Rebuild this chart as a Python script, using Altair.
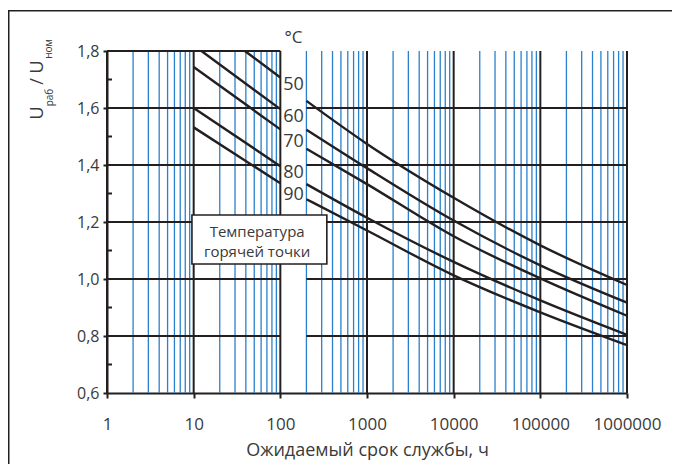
import altair as alt
import pandas as pd

# ---------------- data ----------------
temps = ["50", "60", "70", "80", "90"]

# left segments (10 ... 100 h)
left_x_50 = [39, 100]
left_y_50 = [1.800, 1.707]
left_x_60 = [12.3, 100]
left_y_60 = [1.800, 1.596]
left_x_70 = [10, 100]
left_y_70 = [1.744, 1.525]
left_x_80 = [10, 100]
left_y_80 = [1.600, 1.396]
left_x_90 = [10, 100]
left_y_90 = [1.532, 1.336]

# right segments (200 ... 1000000 h)
right_x = [200, 1000, 10000, 100000, 1000000]
right_y_50 = [1.625, 1.474, 1.285, 1.118, 0.979]
right_y_60 = [1.524, 1.389, 1.205, 1.048, 0.917]
right_y_70 = [1.457, 1.333, 1.150, 1.002, 0.871]
right_y_80 = [1.333, 1.215, 1.060, 0.925, 0.804]
right_y_90 = [1.280, 1.170, 1.013, 0.883, 0.768]

x_ticks = [1, 10, 100, 1000, 10000, 100000, 1000000]
x_minor = [2, 3, 4, 5, 6, 7, 8, 9,
           20, 30, 40, 50, 60, 70, 80, 90,
           200, 300, 400, 500, 600, 700, 800, 900,
           2000, 3000, 4000, 5000, 6000, 7000, 8000, 9000,
           20000, 30000, 40000, 50000, 60000, 70000, 80000, 90000,
           200000, 300000, 400000, 500000, 600000, 700000, 800000, 900000]
y_ticks = [0.6, 0.8, 1.0, 1.2, 1.4, 1.6, 1.8]
y_minor = [0.7, 0.9, 1.1, 1.3, 1.5, 1.7]

# horizontal grid segments (gap between 100 and 200 for the labels)
hgrid_y = [0.8, 0.8, 1.0, 1.0, 1.2, 1.2, 1.4, 1.4, 1.6, 1.6, 1.8]
hgrid_x1 = [1, 200, 1, 200, 1, 200, 1, 200, 1, 200, 1]
hgrid_x2 = [100, 1000000, 100, 1000000, 100, 1000000, 100, 1000000, 100, 1000000, 100]

# curve labels
label_x = [141.6] * 5
label_y = [1.681, 1.567, 1.482, 1.373, 1.295]
unit_label = "°C"
unit_x = [141.6]

# annotation box
box_x = [9.55]
box_x2 = [344]
box_y = [1.0526]
box_y2 = [1.2246]
box_text = ["Температура", "горячей точки"]
box_text_x = [54, 54]
box_text_y = [1.166, 1.094]

x_title = "Ожидаемый срок службы, ч"

# ---------------- styles ----------------
DARK = "#231f20"
BLUE = "#2a80cc"
TXT = "#3a3a3a"
FONT = "Open Sans"
W, H = 520, 342

xs = alt.Scale(type="log", domain=[1, 1000000], nice=False)
ys = alt.Scale(domain=[0.6, 1.8], nice=False, zero=False)

rows = []
lefts = [(left_x_50, left_y_50), (left_x_60, left_y_60), (left_x_70, left_y_70),
         (left_x_80, left_y_80), (left_x_90, left_y_90)]
rights = [right_y_50, right_y_60, right_y_70, right_y_80, right_y_90]
for t, (lx, ly), ry in zip(temps, lefts, rights):
    for a, b in zip(lx, ly):
        rows.append({"key": t + "L", "x": a, "y": b})
    for a, b in zip(right_x, ry):
        rows.append({"key": t + "R", "x": a, "y": b})
curves_df = pd.DataFrame(rows)

x_axis = alt.Axis(
    values=x_ticks, format="d", grid=False, title=x_title,
    labelFont=FONT, labelFontSize=17, labelColor=TXT, labelPadding=18, labelFlush=False,
    tickColor=DARK, tickSize=5, tickWidth=2, domainColor=DARK, domainWidth=2,
    titleFont=FONT, titleFontSize=18, titleFontWeight="normal", titleColor=TXT, titlePadding=9)
y_axis = alt.Axis(
    values=y_ticks, labelExpr="replace(format(datum.value, '.1f'), '.', ',')", grid=False, title=None,
    labelFont=FONT, labelFontSize=16, labelColor=TXT, labelPadding=4,
    tickColor=DARK, tickSize=4, tickWidth=2, domainColor=DARK, domainWidth=2)


def X(f):
    return alt.X(f, scale=xs, axis=x_axis)


def Y(f):
    return alt.Y(f, scale=ys, axis=y_axis)


blue = alt.Chart(pd.DataFrame({"x": x_minor})).mark_rule(color=BLUE, strokeWidth=1.3).encode(
    x=X("x:Q"), y=alt.value(0), y2=alt.value(H))

dark_v = alt.Chart(pd.DataFrame({"x": x_ticks})).mark_rule(color=DARK, strokeWidth=2).encode(
    x=X("x:Q"), y=alt.value(0), y2=alt.value(H))

hgrid = alt.Chart(pd.DataFrame({"y": hgrid_y, "x1": hgrid_x1, "x2": hgrid_x2})).mark_rule(
    color=DARK, strokeWidth=2).encode(
    x=X("x1:Q"), x2="x2:Q", y=Y("y:Q"))

curves = alt.Chart(curves_df).mark_line(color=DARK, strokeWidth=2.4, interpolate="monotone").encode(
    x=X("x:Q"), y=Y("y:Q"), detail="key:N")

minor_y = alt.Chart(pd.DataFrame({"y": y_minor})).mark_rule(color=DARK, strokeWidth=2).encode(
    x=alt.value(0), x2=alt.value(5), y=Y("y:Q"))

box = alt.Chart(pd.DataFrame({"x": box_x, "x2": box_x2, "y": box_y, "y2": box_y2})).mark_rect(
    fill="white", stroke=DARK, strokeWidth=1.6).encode(
    x=X("x:Q"), x2="x2:Q", y=Y("y:Q"), y2="y2:Q")

box_txt = alt.Chart(pd.DataFrame({"t": box_text, "x": box_text_x, "y": box_text_y})).mark_text(
    font=FONT, fontSize=15, color=TXT).encode(
    x=X("x:Q"), y=Y("y:Q"), text="t:N")

labels = alt.Chart(pd.DataFrame({"t": temps, "x": label_x, "y": label_y})).mark_text(
    font=FONT, fontSize=18, color=TXT).encode(
    x=X("x:Q"), y=Y("y:Q"), text="t:N")

unit = alt.Chart(pd.DataFrame({"t": [unit_label], "x": unit_x})).mark_text(
    font=FONT, fontSize=17, color=TXT).encode(
    x=X("x:Q"), y=alt.value(-13), text="t:N")

# y title: U_раб / U_ном  (rotated, built from pieces)
yt_parts = ["U", "раб", "/", "U", "ном"]
yt_px = [-69, -57.5, -69, -69, -58]
yt_py = [62, 46.5, 30.5, 16, -2]
yt_size = [18, 10, 18, 18, 10]
ytitle = alt.layer(*[
    alt.Chart(pd.DataFrame({"t": [p]})).mark_text(
        font=FONT, fontSize=s, color=TXT, angle=270, align="center", baseline="middle").encode(
        x=alt.value(px), y=alt.value(py), text="t:N")
    for p, px, py, s in zip(yt_parts, yt_px, yt_py, yt_size)
])

frame_top = alt.Chart(pd.DataFrame({"a": [0]})).mark_rect(color=DARK).encode(
    x=alt.value(-99), x2=alt.value(565), y=alt.value(-41), y2=alt.value(-39.5))
frame_left = alt.Chart(pd.DataFrame({"a": [1]})).mark_rect(color=DARK).encode(
    x=alt.value(-99), x2=alt.value(-97.5), y=alt.value(-41), y2=alt.value(425))

chart = alt.layer(
    blue, dark_v, hgrid, curves, minor_y, box, box_txt, labels, unit, ytitle,
    frame_top, frame_left
).properties(
    width=W, height=H,
    autosize=alt.AutoSizeParams(type="none"),
    padding={"left": 99, "top": 43, "right": 45, "bottom": 71},
).configure_view(stroke=None)

chart.save("out.html", embed_options={"renderer": "svg", "actions": False})
